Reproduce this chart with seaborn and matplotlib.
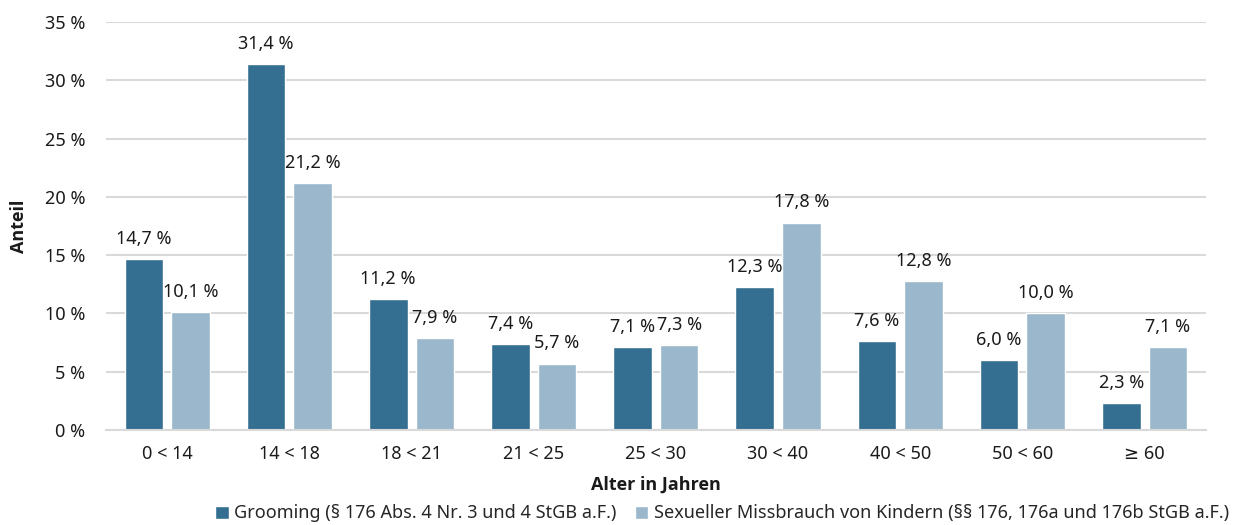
import matplotlib
matplotlib.use('AGG')

import matplotlib.pyplot as plt
import seaborn as sns
import pandas as pd

age_groups = ['0 < 14', '14 < 18', '18 < 21', '21 < 25', '25 < 30',
              '30 < 40', '40 < 50', '50 < 60', '≥ 60']
grooming = [14.7, 31.4, 11.2, 7.4, 7.1, 12.3, 7.6, 6.0, 2.3]
missbrauch = [10.1, 21.2, 7.9, 5.7, 7.3, 17.8, 12.8, 10.0, 7.1]
series_names = ['Grooming (§ 176 Abs. 4 Nr. 3 und 4 StGB a.F.)',
                'Sexueller Missbrauch von Kindern (§§ 176, 176a und 176b StGB a.F.)']
colors = ['#346f91', '#9ab7cb']

df = pd.DataFrame({
    'Alter': age_groups * 2,
    'Anteil': grooming + missbrauch,
    'Delikt': [series_names[0]] * len(age_groups) + [series_names[1]] * len(age_groups),
})

sns.set_style('white')
plt.rcParams['font.family'] = ['Noto Sans', 'DejaVu Sans']
bold_font = ['Open Sans', 'DejaVu Sans']
fs = 13

fig, ax = plt.subplots(figsize=(12.34, 5.25), dpi=100)
fig.subplots_adjust(left=0.086, right=0.977, top=0.958, bottom=0.181)

sns.barplot(data=df, x='Alter', y='Anteil', hue='Delikt', palette=colors,
            width=0.763, gap=0.173, ax=ax, legend=True, saturation=1)

for cont in ax.containers:
    ax.bar_label(cont, labels=[f'{v:.1f} %'.replace('.', ',') for v in cont.datavalues],
                 padding=8, fontsize=fs, color='#1a1a1a')

ax.set_ylim(0, 35)
ax.set_xlim(-0.5, 8.5)
ax.set_yticks(range(0, 36, 5))
ax.set_yticklabels([f'{t} %' for t in range(0, 36, 5)])
ax.yaxis.grid(True, color='#d9d9d9', linewidth=1.5)
ax.set_axisbelow(True)
for s in ['top', 'right', 'left']:
    ax.spines[s].set_visible(False)
ax.spines['bottom'].set_color('#d9d9d9')
ax.spines['bottom'].set_linewidth(1.5)
ax.tick_params(axis='both', length=0, labelsize=fs, colors='#1a1a1a')
ax.tick_params(axis='x', pad=11)
ax.tick_params(axis='y', pad=15)

ax.set_xlabel('Alter in Jahren', fontsize=13, fontweight='bold', family=bold_font,
              labelpad=9, color='#1a1a1a')
ax.set_ylabel('Anteil', fontsize=13, fontweight='bold', family=bold_font,
              labelpad=12, color='#1a1a1a')

handles, labels = ax.get_legend_handles_labels()
ax.get_legend().remove()
fig.legend(handles, labels, loc='center', bbox_to_anchor=(0.585, 0.022), ncol=2,
           frameon=False, fontsize=fs, handlelength=0.75, handleheight=0.75,
           handletextpad=0.3, columnspacing=1.0, borderaxespad=0, borderpad=0)

fig.savefig('out.png', dpi=100)
